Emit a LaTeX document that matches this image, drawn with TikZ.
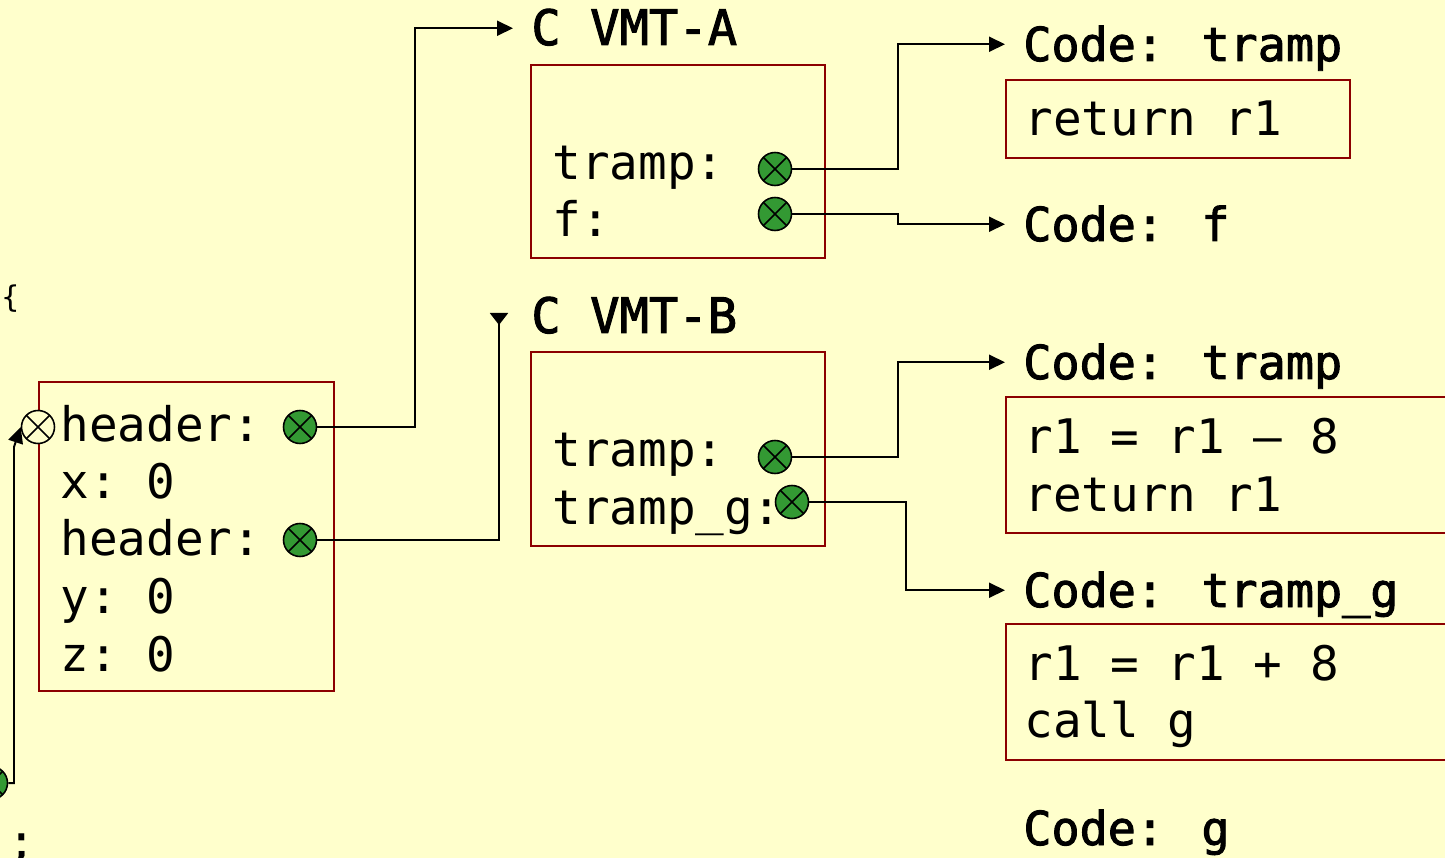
\documentclass[tikz,border=0pt]{standalone}
\usepackage{fontspec}
\setmonofont{DejaVu Sans Mono}
\newfontfamily\titlefont{DejaVu Sans Mono}[FakeBold=2]
\usetikzlibrary{arrows.meta,positioning,calc}
\definecolor{SlideYellow}{RGB}{255,255,204}
\definecolor{BoxRed}{RGB}{140,0,0}
\definecolor{PtrGreen}{RGB}{51,153,51}
\newcommand{\slidefont}{\ttfamily\fontsize{27.1}{32}\selectfont}
\tikzset{
  membox/.style={draw=BoxRed,line width=0.04cm,anchor=north west,inner sep=0pt},
  field/.style={anchor=base west,inner sep=0pt,font=\slidefont},
  vtitle/.style={anchor=base west,inner xsep=0.36cm,inner ysep=0pt,
                 text height=0.67cm,text depth=0pt,
                 font=\titlefont\fontsize{27.8}{32}\selectfont},
  ctitle/.style={vtitle,font=\titlefont\fontsize{26.6}{32}\selectfont},
  ptrdot/.style={circle,draw=black,fill=PtrGreen,line width=0.9pt,
                 minimum size=0.66cm,inner sep=0pt,
                 path picture={\draw[line width=0.9pt]
                   (path picture bounding box.north west) -- (path picture bounding box.south east)
                   (path picture bounding box.north east) -- (path picture bounding box.south west);}},
  selfdot/.style={ptrdot,fill=SlideYellow},
  arr/.style={-{Triangle[length=0.32cm,width=0.3cm]},line width=0.04cm},
  revarr/.style={-{Triangle[reversed,length=0.24cm,width=0.36cm]},line width=0.04cm},
}
\begin{document}
\begin{tikzpicture}[x=0.02cm,y=-0.02cm]
    \useasboundingbox (0,0) rectangle (1445,858);
    \fill[SlideYellow] (0,0) rectangle (1445,858);
    \clip (0,0) rectangle (1445,858);

    % Boxes
    \node[membox, minimum width=5.9cm, minimum height=6.18cm] (obj) at (38,381) {};
    \node[membox, minimum width=5.88cm, minimum height=3.86cm] (vmtAbox) at (530,64) {};
    \node[membox, minimum width=5.88cm, minimum height=3.88cm] (vmtBbox) at (530,351) {};
    \node[membox, minimum width=6.88cm, minimum height=1.56cm] (codeAbox) at (1005,79) {};
    \node[membox, minimum width=9.3cm, minimum height=2.72cm] (codeBbox) at (1005,396) {};
    \node[membox, minimum width=9.3cm, minimum height=2.72cm] (codeGbox) at (1005,623) {};

    % Object fields
    \node[field] (f1) at (60,441) {header:};
    \node[field] (f2) at (60,498.5) {x: 0};
    \node[field] (f3) at (60,556) {header:};
    \node[field] (f4) at (60,613.5) {y: 0};
    \node[field] (f5) at (60,671) {z: 0};
    \node[field] (a1) at (552,180) {tramp:};
    \node[field] (a2) at (552,237) {f:};
    \node[field] (b1) at (552,466) {tramp:};
    \node[field] (b2) at (552,524) {tramp\_g:};
    \node[field] (c1) at (1024,136) {return r1};
    \node[field] (c2) at (1024,454) {r1 = r1 – 8};
    \node[field] (c3) at (1024,511.5) {return r1};
    \node[field] (c4) at (1024,680) {r1 = r1 + 8};
    \node[field] (c5) at (1024,737.5) {call g};
    \node[field, font=\ttfamily\fontsize{17}{20}\selectfont] (brace) at (1,308) {\{};
    \node[field] (semi) at (7,858) {;};

    % Titles
    \node[vtitle] (vmtA) at (513,45) {C VMT-A};
    \node[vtitle] (vmtB) at (513,333) {C VMT-B};
    \node[ctitle] (codeTrA) at (1005,61) {Code: tramp};
    \node[ctitle] (codeF) at (1005,241) {Code: f};
    \node[ctitle] (codeTrB) at (1005,379) {Code: tramp};
    \node[ctitle] (codeTrG) at (1005,607) {Code: tramp\_g};
    \node[ctitle] (codeG) at (1005,845) {Code: g};

    % Pointers
    \node[selfdot] (self) at (38,427) {};
    \node[ptrdot] (hdr1) at (300,427) {};
    \node[ptrdot] (hdr2) at (300,540) {};
    \node[ptrdot] (tA) at (775,169) {};
    \node[ptrdot] (fA) at (775,214) {};
    \node[ptrdot] (tB) at (775,457) {};
    \node[ptrdot] (tgB) at (792,502) {};
    \node[ptrdot] (objptr) at (-9,783) {};
    \coordinate (vmtBin) at (499,313);

    % Edges
    \draw[arr] (hdr1) -- ++(115,0) |- (vmtA);
    \draw[revarr] (hdr2) -| (vmtBin);
    \draw[arr] (tA) -- ++(123,0) |- (codeTrA);
    \draw[arr] (fA) -- ++(123,0) |- (codeF);
    \draw[arr] (tB) -- ++(123,0) |- (codeTrB);
    \draw[arr] (tgB) -- ++(114,0) |- (codeTrG);
    \draw[arr] (objptr) -- ++(23,0) -- ++(0,-336) -- (self.west);
\end{tikzpicture}
\end{document}
